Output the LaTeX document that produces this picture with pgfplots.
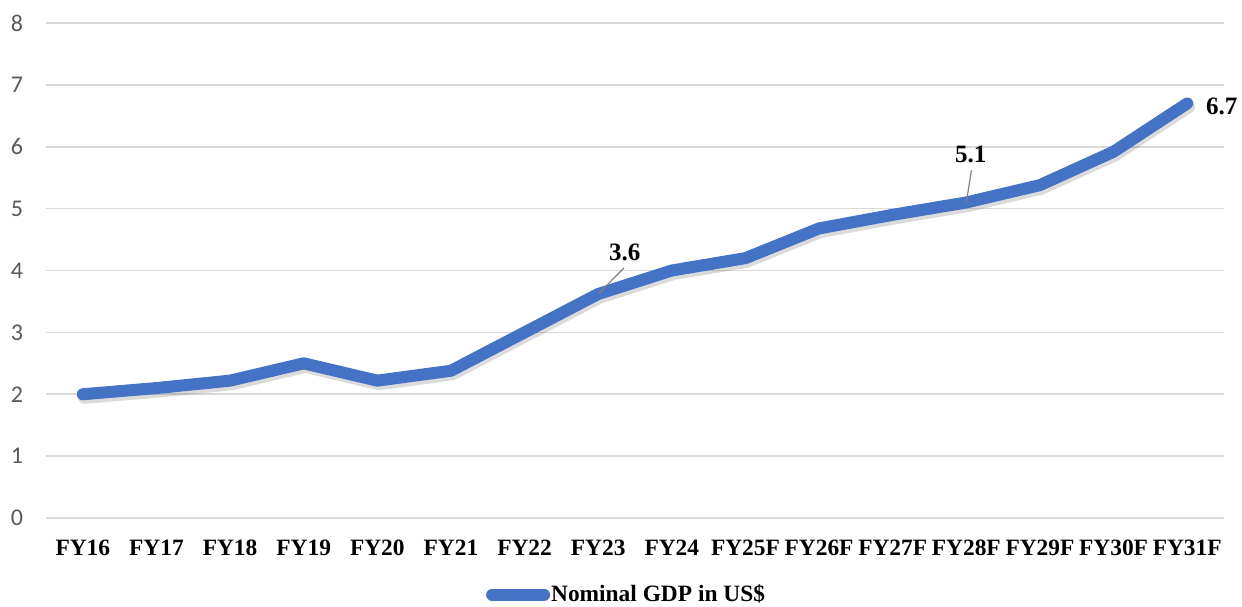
\documentclass[border=0pt]{standalone}
\usepackage{pgfplots}
\pgfplotsset{compat=1.18}
\usepackage{fontspec}
\setmainfont{Liberation Serif}
\newfontfamily\yfont{Carlito}
\definecolor{lineblue}{HTML}{4472C4}
\definecolor{gridgray}{HTML}{D9D9D9}
\definecolor{tickgray}{HTML}{595959}
\begin{document}
\begin{tikzpicture}
\useasboundingbox (-23pt,-44pt) rectangle (598pt,259pt);
\begin{axis}[
  scale only axis,
  width=589pt, height=247.5pt,
  xmin=-0.5, xmax=15.5, ymin=0, ymax=8,
  axis line style={draw=none},
  clip=false,
  xtick={0,...,15},
  xticklabels={FY16,FY17,FY18,FY19,FY20,FY21,FY22,FY23,FY24,FY25F,FY26F,FY27F,FY28F,FY29F,FY30F,FY31F},
  ytick={0,...,8},
  major tick length=0pt,
  ymajorgrids,
  grid style={gridgray, line width=0.8pt},
  xticklabel style={font=\fontsize{11.7}{12}\selectfont\bfseries, anchor=center, yshift=-15pt},
  yticklabel style={font=\fontsize{12}{13}\yfont, text=tickgray, anchor=center, xshift=-14.5pt},
  /pgf/number format/assume math mode=true,
  legend style={at={(0.4924,0)}, anchor=center, yshift=-38.3pt, draw=none, fill=none,
    font=\fontsize{11.7}{12}\selectfont\bfseries, inner sep=0pt, nodes={inner sep=0.5pt}},
  legend cell align=left,
  legend image code/.code={\draw[lineblue, line width=6pt, line cap=round] (0pt,0pt) -- (26pt,0pt);},
]
\addplot[black, opacity=0.14, line width=6.4pt, line join=round, line cap=round, yshift=-1.6pt, xshift=0.8pt, forget plot]
  coordinates {(0,2.0)(1,2.1)(2,2.22)(3,2.5)(4,2.22)(5,2.38)(6,3.0)(7,3.62)(8,4.0)(9,4.2)(10,4.68)(11,4.9)(12,5.1)(13,5.38)(14,5.92)(15,6.7)};
\addplot[lineblue, line width=6pt, line join=round, line cap=round]
  coordinates {(0,2.0)(1,2.1)(2,2.22)(3,2.5)(4,2.22)(5,2.38)(6,3.0)(7,3.62)(8,4.0)(9,4.2)(10,4.68)(11,4.9)(12,5.1)(13,5.38)(14,5.92)(15,6.7)};
\addlegendentry{Nominal GDP in US\$}
\draw[gray, line width=0.6pt] (axis cs:7.0,3.62) -- (axis cs:7.35,4.04);
\draw[gray, line width=0.6pt] (axis cs:12.0,5.1) -- (axis cs:12.07,5.62);
\node[font=\fontsize{12.5}{13}\selectfont\bfseries] at (axis cs:7.36,4.30) {3.6};
\node[font=\fontsize{12.5}{13}\selectfont\bfseries] at (axis cs:12.06,5.87) {5.1};
\node[font=\fontsize{12.5}{13}\selectfont\bfseries] at (axis cs:15.47,6.66) {6.7};
\end{axis}
\end{tikzpicture}
\end{document}
